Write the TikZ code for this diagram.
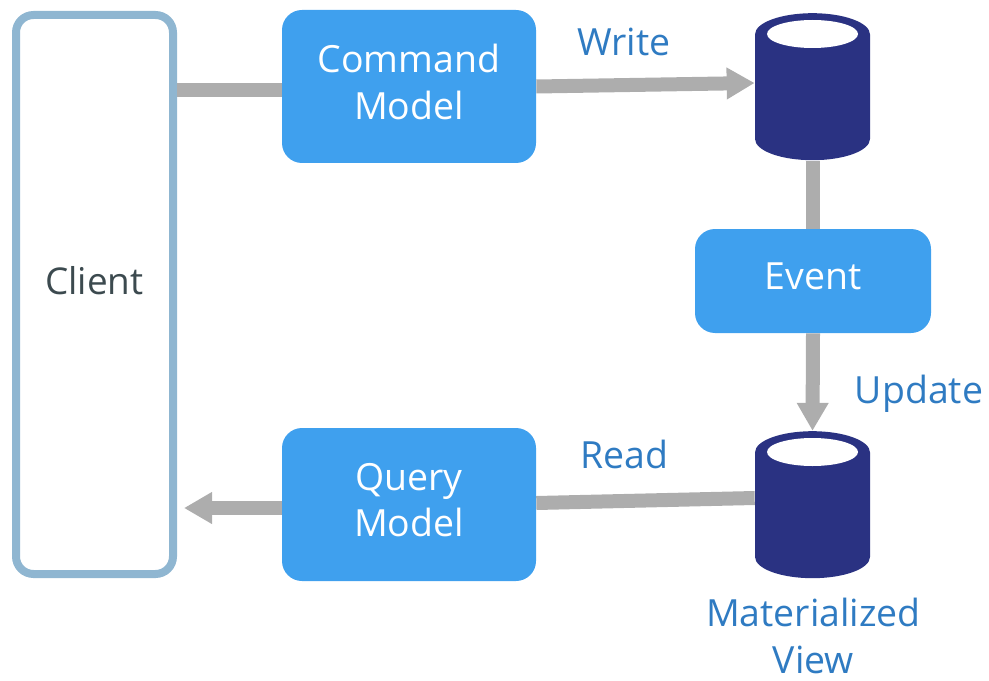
\documentclass[tikz,border=0pt]{standalone}
\usepackage{fontspec}
\setmainfont{Open Sans}
\usetikzlibrary{positioning,arrows.meta,shapes.geometric}
\definecolor{boxblue}{HTML}{3FA0EE}
\definecolor{storeblue}{HTML}{2A3282}
\definecolor{clientedge}{HTML}{8FB6D1}
\definecolor{labelblue}{HTML}{2F7BC2}
\definecolor{clienttext}{HTML}{3C4A4F}
\definecolor{flowgray}{HTML}{ADADAD}

\begin{document}
\begin{tikzpicture}[
    model/.style={
        rectangle,
        rounded corners=0.4cm,
        fill=boxblue,
        minimum width=5.08cm,
        minimum height=3.06cm,
        align=center,
        text=white,
        text depth=0.18cm,
        font=\fontsize{21.3}{26.5}\selectfont
    },
    store/.style={
        cylinder,
        shape border rotate=90,
        shape aspect=0.37,
        fill=storeblue,
        text width=2.3cm,
        minimum width=2.3cm,
        minimum height=2.94cm,
        inner sep=0pt
    },
    storetop/.style={
        ellipse,
        fill=white,
        minimum width=1.82cm,
        minimum height=0.56cm,
        inner sep=0pt
    },
    caption/.style={
        text=labelblue,
        align=center,
        font=\fontsize{21.3}{26.5}\selectfont
    },
    flow/.style={
        line width=0.28cm,
        draw=flowgray
    },
    flowarrow/.style={
        flow,
        -{Triangle[length=0.56cm,width=0.6cm]}
    }
]

\useasboundingbox (0,0) rectangle (19.78,-13.6);

% Client on the left
\node[rectangle, rounded corners=0.35cm, draw=clientedge, line width=0.16cm, fill=white, minimum width=3.14cm, minimum height=11.18cm] (client) at (1.89,-5.89) {};
\node[font=\fontsize{21}{26}\selectfont, text=clienttext] (clientname) at (1.89,-5.62) {Client};

% Models and event
\node[model] (command) at (8.18,-1.73) {Command\\Model};
\node[model] (query) at (8.18,-10.09) {Query\\Model};
\node[model, minimum width=4.72cm, minimum height=2.08cm] (event) at (16.26,-5.62) {Event};

% Stores
\node[store] (eventstore) at (16.25,-1.95) {};
\node[storetop] (eventtop) at (16.25,-0.68) {};
\node[store] (viewstore) at (16.25,-10.31) {};
\node[storetop] (viewtop) at (16.25,-9.04) {};

% Connectors
\coordinate (clientin) at (3.68,-10.16);
\draw[flow] (client.east |- 0,-1.8) -- (command.west |- 0,-1.8);
\draw[flowarrow] (command.east) -- ([yshift=0.29cm]eventstore.west);
\draw[flow] (eventstore.south) -- (eventstore.south |- event.north);
\draw[flowarrow] (event.south) -- (viewstore.north);
\draw[flow] ([yshift=0.35cm]viewstore.west) -- ([yshift=0.03cm]query.east);
\draw[flowarrow] (query.west |- clientin) -- (clientin);

% Labels
\node[caption] (writelabel) at (12.48,-0.83) {Write};
\node[caption] (updatelabel) at (18.38,-7.87) {Update};
\node[caption] (readlabel) at (12.48,-9.08) {Read};
\node[caption] (viewlabel) at (16.27,-12.72) {Materialized\\View};

\end{tikzpicture}
\end{document}
